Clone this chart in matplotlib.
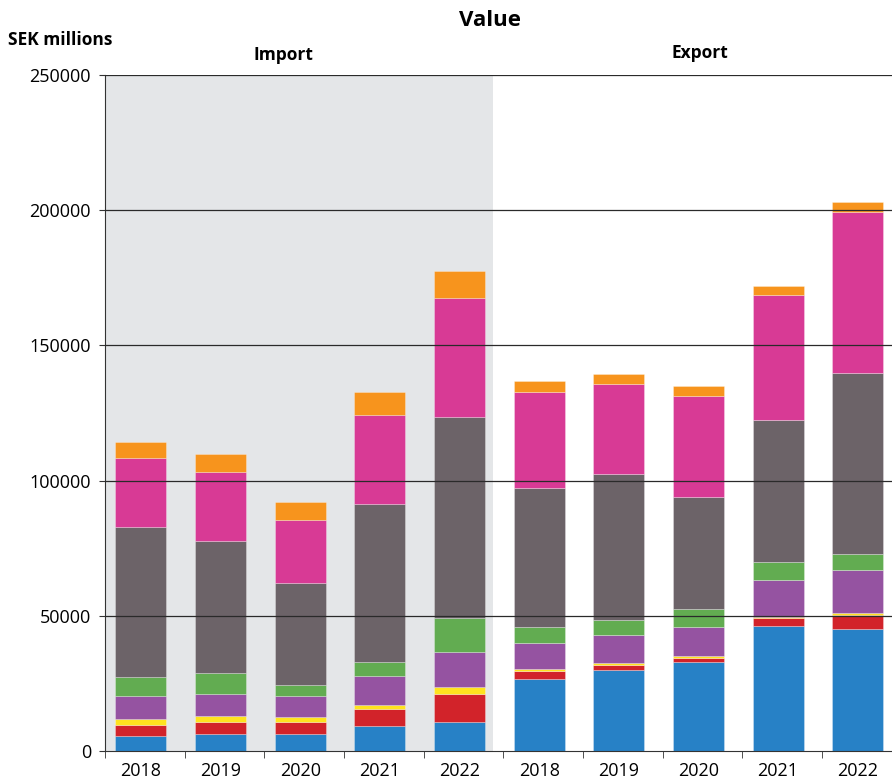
import matplotlib.pyplot as plt
import numpy as np

years = ["2018", "2019", "2020", "2021", "2022"]
labels = years + years

# segment values (SEK millions), bottom to top, import 2018-2022 then export 2018-2022
blue = [5650, 6170, 6170, 9370, 10840, 26740, 29840, 32910, 46340, 45120]
red = [3950, 4670, 4670, 6040, 10240, 2960, 2080, 1590, 2960, 5280]
yellow = [2230, 2100, 1610, 1490, 2590, 620, 620, 510, 150, 630]
purple = [8620, 8140, 8000, 10840, 12820, 9730, 10240, 10730, 13790, 16020]
green = [6900, 7760, 3840, 5170, 12580, 5690, 5660, 6770, 6770, 5690]
grey = [55480, 48820, 37950, 58310, 74330, 51520, 54000, 41300, 52510, 67160]
magenta = [25630, 25620, 23180, 33150, 44230, 35500, 33390, 37360, 46220, 59310]
orange = [5810, 6440, 6660, 8370, 9870, 4070, 3700, 3700, 3110, 3700]

series = [blue, red, yellow, purple, green, grey, magenta, orange]
colors = ["#2781C6", "#D2232A", "#FFE21F", "#9553A1", "#62AC51", "#6C6368", "#D83A95", "#F7941D"]

plt.rcParams['font.family'] = ['Open Sans', 'DejaVu Sans']
tick_font = ['Liberation Sans Narrow', 'Open Sans', 'DejaVu Sans']

fig = plt.figure(figsize=(8.92, 7.79), dpi=100)
ax = fig.add_axes([105 / 892, 1 - 751 / 779, 1 - 105 / 892, (751 - 75) / 779])

x = np.arange(10)
bottom = np.zeros(10)
for vals, c in zip(series, colors):
    ax.bar(x, vals, width=0.64, bottom=bottom, color=c, edgecolor=(1, 1, 1, 0.5),
           linewidth=0.4, zorder=2)
    bottom += np.array(vals)

ax.set_xlim(-0.45, 9.43)
ax.set_ylim(0, 250000)
ax.axvspan(-0.45, 4.42, color="#E4E6E8", zorder=0, lw=0)

for yv in [50000, 100000, 150000, 200000, 250000]:
    ax.axhline(yv, color="#2a2a2a", lw=0.9, zorder=3)

for s in ["top", "right"]:
    ax.spines[s].set_visible(False)
ax.spines["left"].set_color("#333333")
ax.spines["bottom"].set_color("#333333")

ax.set_yticks([0, 50000, 100000, 150000, 200000, 250000])
ax.set_yticklabels(["0", "50000", "100000", "150000", "200000", "250000"], family=tick_font)
ax.tick_params(axis="y", labelsize=13, length=4, color="#333333", pad=6)

ax.set_xticks(x)
ax.set_xticklabels(labels, family=tick_font)
ax.tick_params(axis="x", labelsize=13, length=0, pad=8)
ax.set_xticks([-0.45] + [i + 0.55 for i in range(9)], minor=True)
ax.tick_params(axis="x", which="minor", length=5, color="#333333")

fig.text(490 / 892, 1 - 20 / 779, "Value", ha="center", va="center",
         fontsize=16, fontweight="bold")
fig.text(8 / 892, 1 - 40 / 779, "SEK millions", ha="left", va="center",
         fontsize=12.5, fontweight="bold")
fig.text(283 / 892, 1 - 55 / 779, "Import", ha="center", va="center",
         fontsize=12.5, fontweight="bold")
fig.text(700 / 892, 1 - 53 / 779, "Export", ha="center", va="center",
         fontsize=12.5, fontweight="bold")

fig.savefig("out.png", dpi=100)
